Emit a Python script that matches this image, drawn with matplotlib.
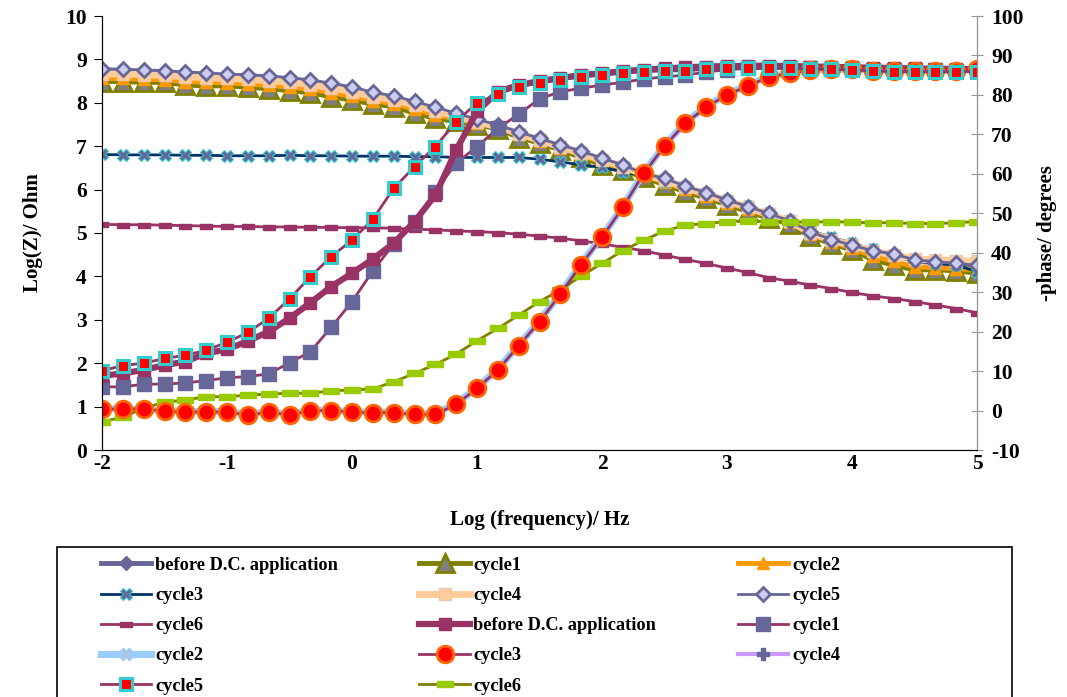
import matplotlib
matplotlib.use('Agg')
import matplotlib.pyplot as plt
from matplotlib.patches import Rectangle

plt.rcParams['font.family'] = ['Liberation Serif', 'DejaVu Serif']
plt.rcParams['font.weight'] = 'bold'
plt.rcParams['axes.unicode_minus'] = False

# log(frequency) points, 6 per decade from -2 to 5
logf = [-2 + k / 6 for k in range(43)]

# Log(Z) series (left axis)
z_before = [8.75, 8.73, 8.72, 8.70, 8.67, 8.65, 8.62, 8.61, 8.58, 8.54, 8.49, 8.41, 8.33, 8.20, 8.12,
            7.99, 7.86, 7.72, 7.58, 7.46, 7.30, 7.15, 7.00, 6.86, 6.70, 6.55, 6.36, 6.24, 6.06, 5.91,
            5.74, 5.59, 5.43, 5.26, 5.01, 4.83, 4.70, 4.57, 4.49, 4.36, 4.31, 4.27, 4.23]
z_c1 = [8.49, 8.49, 8.47, 8.47, 8.41, 8.39, 8.39, 8.36, 8.32, 8.28, 8.23, 8.14, 8.06, 7.97, 7.91,
        7.76, 7.64, 7.57, 7.49, 7.40, 7.20, 7.07, 6.91, 6.74, 6.57, 6.45, 6.28, 6.11, 5.95, 5.80,
        5.65, 5.49, 5.34, 5.21, 4.92, 4.75, 4.61, 4.38, 4.26, 4.15, 4.15, 4.13, 4.07]
z_c2 = [8.56, 8.56, 8.54, 8.53, 8.49, 8.47, 8.46, 8.43, 8.40, 8.36, 8.31, 8.23, 8.15, 8.05, 7.98,
        7.85, 7.72, 7.63, 7.54, 7.45, 7.27, 7.12, 6.96, 6.80, 6.63, 6.50, 6.33, 6.17, 6.01, 5.86,
        5.70, 5.55, 5.39, 5.25, 4.97, 4.80, 4.66, 4.46, 4.35, 4.22, 4.20, 4.18, 4.15]
z_c3 = [6.81, 6.80, 6.80, 6.80, 6.79, 6.79, 6.78, 6.78, 6.78, 6.79, 6.78, 6.78, 6.77, 6.77, 6.77,
        6.76, 6.76, 6.74, 6.74, 6.74, 6.74, 6.70, 6.64, 6.57, 6.51, 6.41, 6.32, 6.18, 6.07, 5.93,
        5.77, 5.62, 5.46, 5.29, 5.06, 4.90, 4.77, 4.62, 4.49, 4.38, 4.30, 4.26, 4.11]
z_c4 = [8.67, 8.66, 8.65, 8.63, 8.60, 8.58, 8.56, 8.54, 8.51, 8.47, 8.42, 8.34, 8.26, 8.14, 8.07,
        7.95, 7.82, 7.69, 7.56, 7.45, 7.29, 7.14, 6.99, 6.84, 6.68, 6.53, 6.35, 6.22, 6.05, 5.90,
        5.74, 5.59, 5.43, 5.27, 5.01, 4.84, 4.72, 4.58, 4.50, 4.40, 4.38, 4.36, 4.35]
z_c5 = [8.79, 8.77, 8.76, 8.74, 8.71, 8.69, 8.66, 8.65, 8.62, 8.58, 8.53, 8.45, 8.37, 8.24, 8.16,
        8.03, 7.90, 7.76, 7.62, 7.49, 7.33, 7.18, 7.03, 6.89, 6.72, 6.57, 6.37, 6.26, 6.08, 5.93,
        5.76, 5.61, 5.45, 5.28, 5.03, 4.85, 4.72, 4.59, 4.52, 4.38, 4.34, 4.30, 4.26]
z_c6 = [5.20, 5.19, 5.19, 5.18, 5.17, 5.16, 5.15, 5.15, 5.14, 5.14, 5.13, 5.13, 5.12, 5.12, 5.11,
        5.09, 5.07, 5.05, 5.03, 5.01, 4.97, 4.93, 4.88, 4.82, 4.75, 4.67, 4.59, 4.49, 4.39, 4.30,
        4.19, 4.09, 3.97, 3.89, 3.80, 3.72, 3.63, 3.55, 3.49, 3.42, 3.34, 3.26, 3.16]

# -phase series (right axis)
p_before = [8.8, 9.4, 10.3, 11.5, 12.4, 14.5, 15.5, 17.6, 20.0, 23.4, 27.3, 31.4, 34.8, 38.4, 42.4,
            47.9, 54.6, 66.0, 75.8, 80.8, 82.5, 83.5, 84.3, 85.0, 85.5, 86.0, 86.4, 86.7, 87.0, 87.2,
            87.3, 87.4, 87.4, 87.3, 87.2, 87.1, 87.0, 86.9, 86.8, 86.7, 86.6, 86.6, 86.5]
p_c1 = [6.0, 6.0, 6.7, 6.7, 7.0, 7.6, 8.3, 8.6, 9.3, 12.1, 14.9, 21.1, 27.6, 35.4, 42.2,
        47.9, 55.5, 62.7, 66.9, 71.5, 75.1, 79.0, 80.8, 81.7, 82.5, 83.2, 84.0, 84.6, 85.0, 85.8,
        86.4, 86.7, 86.8, 86.8, 86.7, 86.6, 86.5, 86.4, 86.3, 86.2, 86.2, 86.1, 86.1]
p_c2 = [0.5, 0.5, 0.3, 0.0, -0.3, -0.2, -0.3, -0.9, -0.3, -0.9, 0.1, 0.1, -0.3, -0.4, -0.4,
        -0.8, -0.8, 1.8, 5.8, 10.5, 16.6, 22.7, 29.7, 37.2, 44.1, 51.7, 60.3, 67.2, 73.0, 77.1,
        80.2, 82.5, 84.6, 85.6, 86.3, 86.5, 86.5, 86.2, 86.2, 86.2, 86.2, 86.2, 86.5]
p_c3 = [0.4, 0.4, 0.4, -0.1, -0.4, -0.3, -0.4, -1.1, -0.4, -1.1, 0.0, 0.0, -0.4, -0.5, -0.5,
        -1.0, -1.0, 1.6, 5.6, 10.3, 16.4, 22.5, 29.5, 37.0, 43.9, 51.5, 60.1, 67.0, 72.8, 76.9,
        80.0, 82.3, 84.5, 85.5, 86.3, 86.5, 86.5, 86.1, 86.1, 86.1, 86.1, 86.1, 86.5]
p_c4 = [0.3, 0.3, 0.3, -0.2, -0.5, -0.4, -0.5, -1.2, -0.5, -1.2, -0.1, -0.1, -0.5, -0.6, -0.6,
        -1.1, -1.1, 1.5, 5.5, 10.2, 16.3, 22.4, 29.4, 36.9, 43.8, 51.4, 60.0, 66.9, 72.7, 76.8,
        79.9, 82.2, 84.4, 85.4, 86.2, 86.4, 86.4, 86.0, 86.0, 86.0, 86.0, 86.0, 86.4]
p_c5 = [10.1, 11.4, 12.0, 13.2, 14.0, 15.3, 17.3, 19.8, 23.4, 28.3, 33.9, 39.0, 43.2, 48.5, 56.3,
        61.8, 66.9, 73.2, 78.0, 80.2, 82.1, 83.0, 83.8, 84.6, 85.0, 85.5, 85.9, 86.1, 86.1, 86.5,
        86.7, 86.7, 86.7, 86.7, 86.6, 86.5, 86.3, 86.1, 85.9, 85.9, 85.9, 85.9, 85.9]
p_c6 = [-2.8, -1.7, 0.6, 2.1, 2.7, 3.5, 3.5, 3.9, 4.2, 4.4, 4.4, 5.0, 5.2, 5.5, 7.3,
        9.4, 11.7, 14.3, 17.7, 20.8, 24.2, 27.6, 30.6, 34.1, 37.3, 40.5, 43.2, 45.5, 47.0, 47.4,
        47.9, 48.1, 47.9, 47.9, 47.7, 47.9, 47.7, 47.6, 47.6, 47.4, 47.4, 47.6, 47.9]

xticks = [-2, -1, 0, 1, 2, 3, 4, 5]
zticks = [0, 1, 2, 3, 4, 5, 6, 7, 8, 9, 10]
pticks = [-10, 0, 10, 20, 30, 40, 50, 60, 70, 80, 90, 100]

# small horizontal bar marker
bar = [(-1, -0.4), (1, -0.4), (1, 0.4), (-1, 0.4), (-1, -0.4)]

fig = plt.figure(figsize=(10.67, 6.97), dpi=100)
ax = fig.add_axes([102 / 1067, 1 - 450 / 697, 875 / 1067, 434 / 697])
ax2 = ax.twinx()

h = []
h += ax.plot(logf, z_before, color='#666699', lw=3.5, marker='D', ms=7, mfc='#666699', mec='#666699',
             label='before D.C. application')
h += ax.plot(logf, z_c1, color='#808000', lw=3.5, marker='^', ms=13, mfc='#7f7f7f', mec='#808000', mew=2,
             label='cycle1')
h += ax.plot(logf, z_c2, color='#ff9900', lw=3.5, marker='^', ms=8, mfc='#ff9900', mec='#ff9900',
             label='cycle2')
h += ax.plot(logf, z_c3, color='#003366', lw=2, marker='X', ms=9, mfc='#666699', mec='#33cccc', mew=0.8,
             label='cycle3')
h += ax.plot(logf, z_c4, color='#ffcc99', lw=5, marker='s', ms=8, mfc='#ffcc99', mec='#e8c8b0',
             label='cycle4')
h += ax.plot(logf, z_c5, color='#666699', lw=2, marker='D', ms=7, mfc='#ccccee', mec='#666699', mew=2,
             label='cycle5')
h += ax.plot(logf, z_c6, color='#993366', lw=2, marker=bar, ms=9, mfc='#993366', mec='#993366',
             label='cycle6')

h += ax2.plot(logf, p_before, color='#993366', lw=4.5, marker='s', ms=9, mfc='#993366', mec='#993366',
              label='before D.C. application', zorder=2.2)
h += ax2.plot(logf, p_c1, color='#993366', lw=2, marker='s', ms=10, mfc='#666699', mec='#666699',
              label='cycle1', zorder=2.1)
h += ax2.plot(logf, p_c2, color='#99ccff', lw=5, marker='X', ms=8, mfc='#b0c4de', mec='#99ccff',
              label='cycle2', zorder=2.0)
h += ax2.plot(logf, p_c3, color='#993366', lw=2, marker='o', ms=12, mfc='#ff0000', mec='#ff6600', mew=2,
              label='cycle3', zorder=2.3)
h += ax2.plot(logf, p_c4, color='#cc99ff', lw=3, marker='P', ms=8, mfc='#666699', mec='#666699',
              label='cycle4', zorder=1.9)
h += ax2.plot(logf, p_c5, color='#993366', lw=2, marker='s', ms=9, mfc='#ff0000', mec='#33cccc', mew=2.2,
              label='cycle5', zorder=2.4)
h += ax2.plot(logf, p_c6, color='#808000', lw=2, marker=bar, ms=12, mfc='#99cc00', mec='#99cc00',
              label='cycle6', zorder=2.0)

ax.set_xlim(-2, 5)
ax.set_ylim(0, 10)
ax2.set_ylim(-10, 100)
ax.set_xticks(xticks)
ax.set_yticks(zticks)
ax2.set_yticks(pticks)

ax.spines['top'].set_visible(False)
ax2.spines['top'].set_visible(False)
ax2.spines['right'].set_color('#999999')
ax.spines['left'].set_color('#333333')
ax.spines['bottom'].set_color('#333333')

ax.tick_params(axis='y', direction='out', length=6, labelsize=15.5, pad=5)
ax.tick_params(axis='x', length=0, labelsize=15.5, pad=3)
ax2.tick_params(axis='y', direction='inout', length=8, color='#999999', labelsize=15.5, pad=6)
for lab in ax.get_xticklabels() + ax.get_yticklabels() + ax2.get_yticklabels():
    lab.set_fontweight('bold')

ax.set_xlabel('Log (frequency)/ Hz', fontsize=15, fontweight='bold', labelpad=26)
ax.set_ylabel('Log(Z)/ Ohm', fontsize=15, fontweight='bold', labelpad=16)
ax2.set_ylabel('-phase/ degrees', fontsize=15, fontweight='bold', labelpad=10)

# legend laid out row by row in 3 columns
order = [0, 3, 6, 9, 12, 1, 4, 7, 10, 13, 2, 5, 8, 11]
leg = fig.legend([h[i] for i in order], [h[i].get_label() for i in order],
                 loc='upper left', bbox_to_anchor=(88 / 1067, 1 - 544 / 697), ncol=3,
                 frameon=False, prop={'size': 13.2, 'weight': 'bold'},
                 handlelength=2.75, handletextpad=0.2, labelspacing=0.72, columnspacing=4.45,
                 borderpad=0.2)
fig.patches.append(Rectangle((57 / 1067, -0.05), (1012 - 57) / 1067, 0.05 + 1 - 547 / 697,
                             transform=fig.transFigure, fill=False, edgecolor='black', lw=1.2))

fig.savefig('out.png', dpi=100)
